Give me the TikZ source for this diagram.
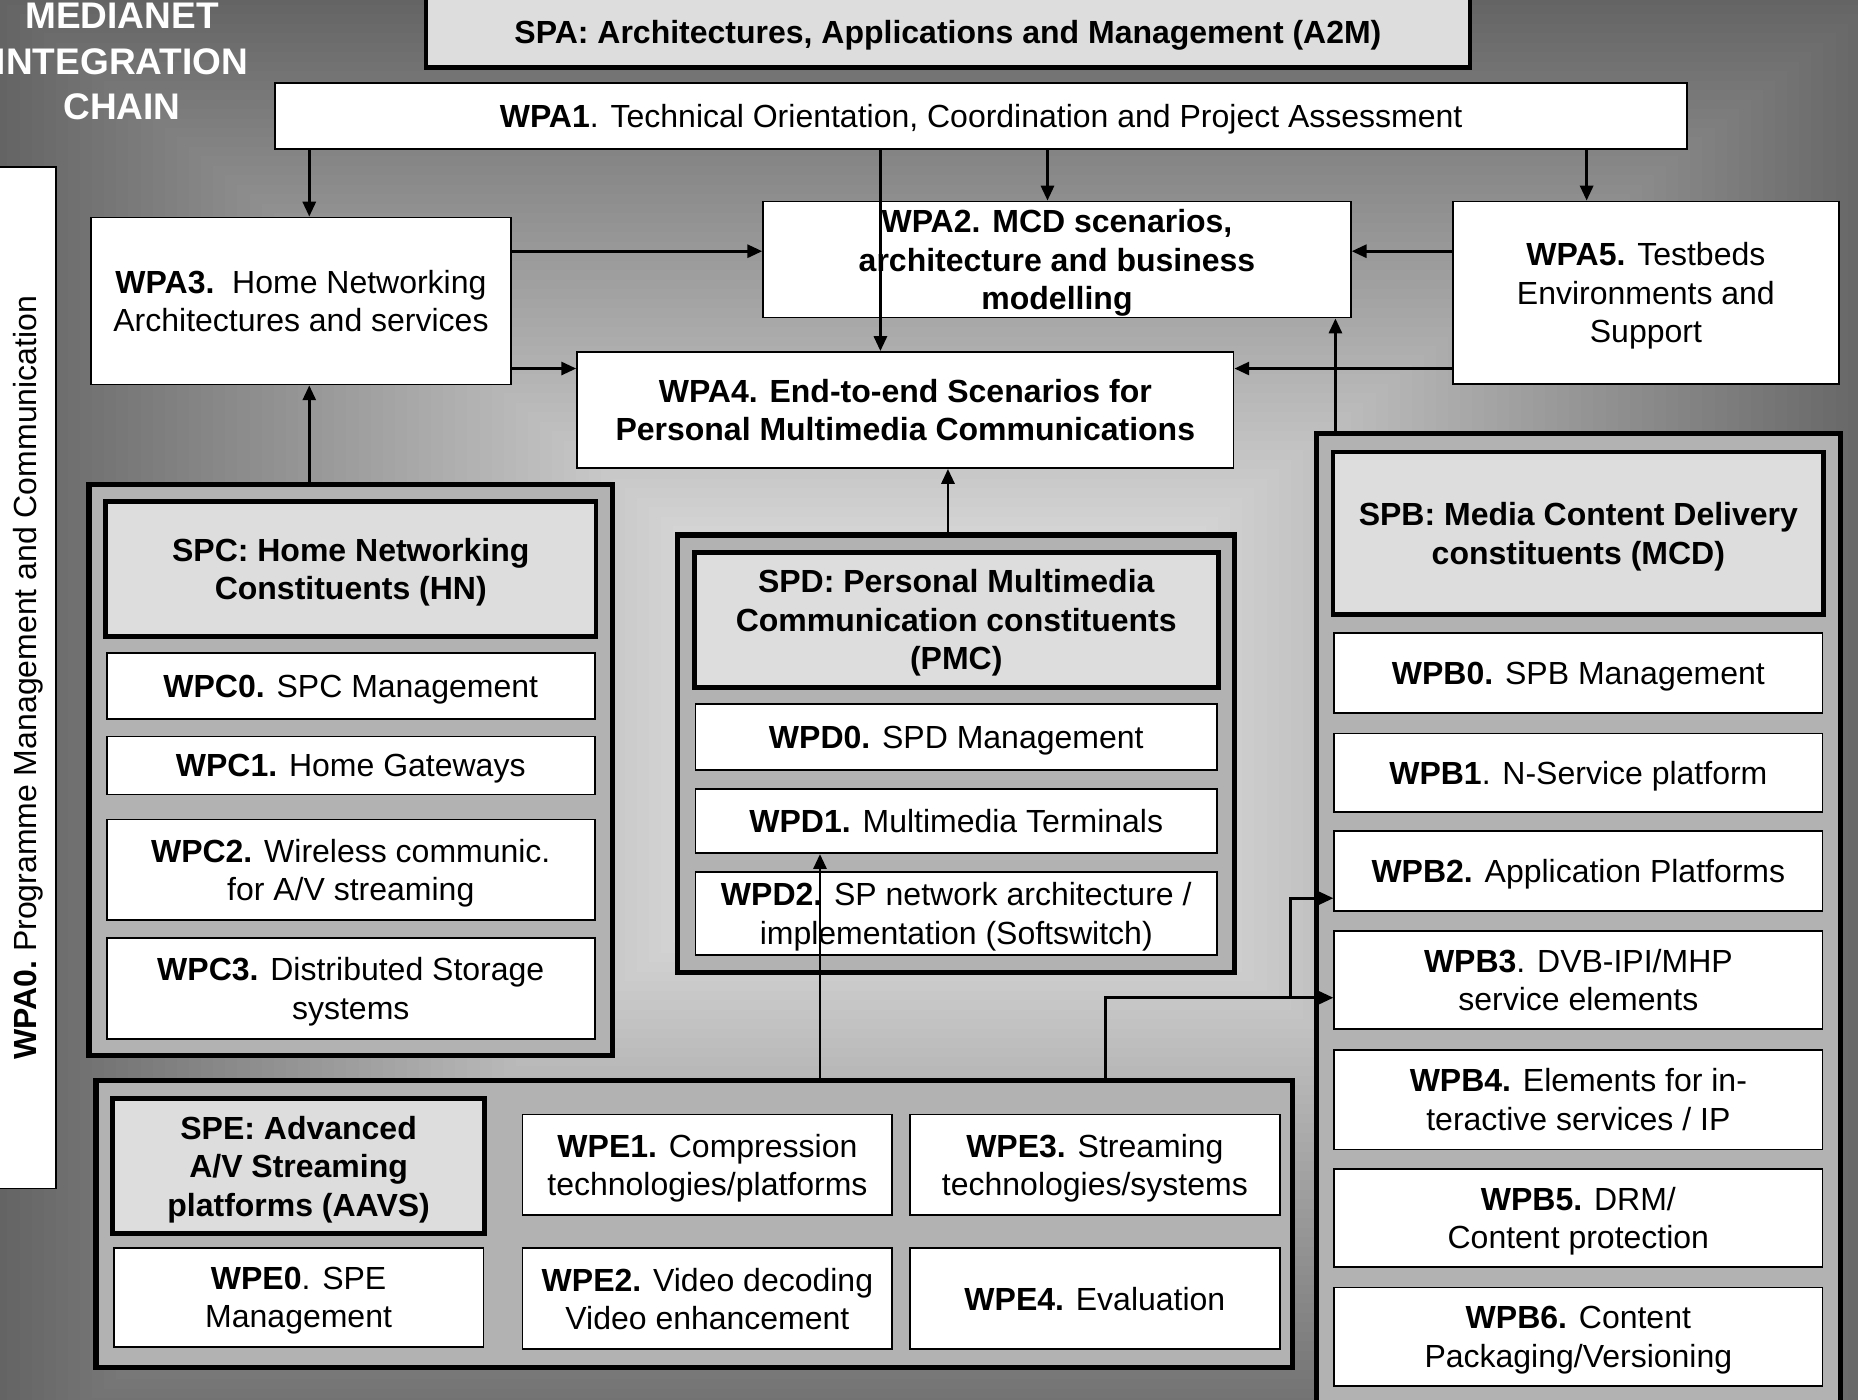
\documentclass[tikz,border=0pt]{standalone}
\usepackage{fontspec}
\setmainfont{Liberation Sans}
\usetikzlibrary{arrows.meta}

\definecolor{headgray}{gray}{0.865}
\definecolor{groupgray}{gray}{0.70}

\begin{document}
\begin{tikzpicture}[x=0.4pt, y=-0.4pt,
  sz/.style 2 args={minimum width=#1*0.4pt, minimum height=#2*0.4pt},
  wp/.style={draw, line width=0.6pt, fill=white, align=center, inner sep=0pt, text depth=-2pt, font=\fontsize{10.8}{13}\selectfont},
  head/.style={wp, fill=headgray, line width=1.6pt, font=\bfseries\fontsize{10.8}{13}\selectfont},
  group/.style={draw, line width=1.8pt, fill=groupgray, inner sep=0pt},
  wire/.style={line width=0.9pt},
  link/.style={wire, -{Triangle[length=5pt,width=4.4pt]}}]
  \useasboundingbox (0,0) rectangle (1568,1181);
  % Background: rectangular glow, light in the middle
  \begin{scope}
    \clip (0,0) rectangle (1568,1181);
    \foreach \s in {760,752,...,136} {
      \pgfmathsetmacro\pct{100*(1-min(220,256-0.25*\s)/255)}
      \fill[black!\pct] (793-\s/0.783,620-\s) rectangle (793+\s/0.783,620+\s);
    }
  \end{scope}
  \node[text=white, align=center, font=\bfseries\fontsize{12.5}{15.4}\selectfont] (title) at (103,52) {MEDIANET\\INTEGRATION\\CHAIN};
  \node[wp, sz={862}{52}, rotate=90] (wpa0) at (21,572) {\textbf{WPA0.}\ Programme Management and Communication};
  % SPA
  \node[head, sz={881}{60}] (spa) at (800,27) {SPA: Architectures, Applications and Management (A2M)};
  \node[wp, sz={1192}{56}] (wpa1) at (828,98) {\textbf{WPA1}. Technical Orientation, Coordination and Project Assessment};
  \node[wp, sz={354}{141}] (wpa3) at (254,254) {\textbf{WPA3.}\ \ Home Networking\\Architectures and services};
  \node[wp, sz={496}{98}, font=\bfseries\fontsize{10.8}{13}\selectfont] (wpa2) at (892,219) {WPA2. MCD scenarios,\\architecture and business\\modelling};
  \node[wp, sz={326}{154}] (wpa5) at (1389,247) {\textbf{WPA5.} Testbeds\\Environments and\\Support};
  \node[wp, sz={554}{98}, font=\bfseries\fontsize{10.8}{13}\selectfont] (wpa4) at (764,346) {WPA4. End-to-end Scenarios for\\Personal Multimedia Communications};
  % SPC
  \node[group, sz={442}{482}] (spc) at (296,650) {};
  \node[head, sz={414}{114}] (spchead) at (296,480) {SPC: Home Networking\\Constituents (HN)};
  \node[wp, sz={412}{56}] (wpc0) at (296,579) {\textbf{WPC0.} SPC Management};
  \node[wp, sz={412}{49}] (wpc1) at (296,646) {\textbf{WPC1.} Home Gateways};
  \node[wp, sz={412}{85}] (wpc2) at (296,734) {\textbf{WPC2.} Wireless communic.\\for A/V streaming};
  \node[wp, sz={412}{85}] (wpc3) at (296,834) {\textbf{WPC3.} Distributed Storage\\systems};
  % SPD
  \node[group, sz={470}{369}] (spd) at (807,636) {};
  \node[head, sz={442}{114}] (spdhead) at (807,523) {SPD: Personal Multimedia\\Communication constituents\\(PMC)};
  \node[wp, sz={440}{56}] (wpd0) at (807,622) {\textbf{WPD0.} SPD Management};
  \node[wp, sz={440}{54}] (wpd1) at (807,693) {\textbf{WPD1.} Multimedia Terminals};
  \node[wp, sz={440}{70}] (wpd2) at (807,771) {\textbf{WPD2.} SP network architecture /\\implementation (Softswitch)};
  % SPB
  \node[group, sz={442}{834}] (spb) at (1332,783) {};
  \node[head, sz={414}{137}] (spbhead) at (1332,450) {SPB: Media Content Delivery\\constituents (MCD)};
  \node[wp, sz={412}{67}] (wpb0) at (1332,568) {\textbf{WPB0.} SPB Management};
  \node[wp, sz={412}{66}] (wpb1) at (1332,652) {\textbf{WPB1}. N-Service platform};
  \node[wp, sz={412}{67}] (wpb2) at (1332,735) {\textbf{WPB2.} Application Platforms};
  \node[wp, sz={412}{83}] (wpb3) at (1332,827) {\textbf{WPB3}. DVB-IPI/MHP\\service elements};
  \node[wp, sz={412}{84}] (wpb4) at (1332,928) {\textbf{WPB4.} Elements for in-\\teractive services / IP};
  \node[wp, sz={412}{83}] (wpb5) at (1332,1028) {\textbf{WPB5.} DRM/\\Content protection};
  \node[wp, sz={412}{83}] (wpb6) at (1332,1128) {\textbf{WPB6.} Content\\Packaging/Versioning};
  % SPE
  \node[group, sz={1010}{242}] (spe) at (586,1033) {};
  \node[head, sz={314}{114}] (spehead) at (252,984) {SPE: Advanced\\A/V Streaming\\platforms (AAVS)};
  \node[wp, sz={312}{84}] (wpe0) at (252,1095) {\textbf{WPE0}. SPE\\Management};
  \node[wp, sz={312}{85}] (wpe1) at (597,983) {\textbf{WPE1.} Compression\\technologies/platforms};
  \node[wp, sz={312}{85}] (wpe3) at (924,983) {\textbf{WPE3.} Streaming\\technologies/systems};
  \node[wp, sz={312}{85}] (wpe2) at (597,1096) {\textbf{WPE2.} Video decoding\\Video enhancement};
  \node[wp, sz={312}{85}] (wpe4) at (924,1096) {\textbf{WPE4.} Evaluation};
  % Links
  \coordinate (colhn) at (261,0);
  \coordinate (colpm) at (743,0);
  \coordinate (colmc) at (884,0);
  \coordinate (coltb) at (1339,0);
  \coordinate (colsb) at (1127,0);
  \coordinate (colsd) at (800,0);
  \coordinate (colse) at (692,0);
  \coordinate (colav) at (933,0);
  \coordinate (colap) at (1089,0);
  \coordinate (rowup) at (0,212);
  \coordinate (rowlo) at (0,311);
  \coordinate (rowap) at (0,758);
  \coordinate (rowdv) at (0,842);
  \draw [link] (wpa1.south -| colhn) -- (wpa3.north -| colhn);
  \draw [link] (wpa1.south -| colpm) -- (wpa4.north -| colpm);
  \draw [link] (wpa1.south -| colmc) -- (wpa2.north -| colmc);
  \draw [link] (wpa1.south -| coltb) -- (wpa5.north -| coltb);
  \draw [link] (wpa3.east |- rowup) -- (wpa2.west |- rowup);
  \draw [link] (wpa3.east |- rowlo) -- (wpa4.west |- rowlo);
  \draw [link] (wpa5.west |- rowup) -- (wpa2.east |- rowup);
  \draw [link] (wpa5.west |- rowlo) -- (wpa4.east |- rowlo);
  \draw [link] (spc.north -| colhn) -- (wpa3.south -| colhn);
  \draw [link] (spd.north -| colsd) -- (wpa4.south -| colsd);
  \draw [link] (spb.north -| colsb) -- (wpa2.south -| colsb);
  \draw [link] (spe.north -| colse) -- (wpd1.south -| colse);
  \draw [link] (spe.north -| colav) |- (wpb3.west |- rowdv);
  \draw [link] (rowdv -| colap) |- (wpb2.west |- rowap);
\end{tikzpicture}
\end{document}
